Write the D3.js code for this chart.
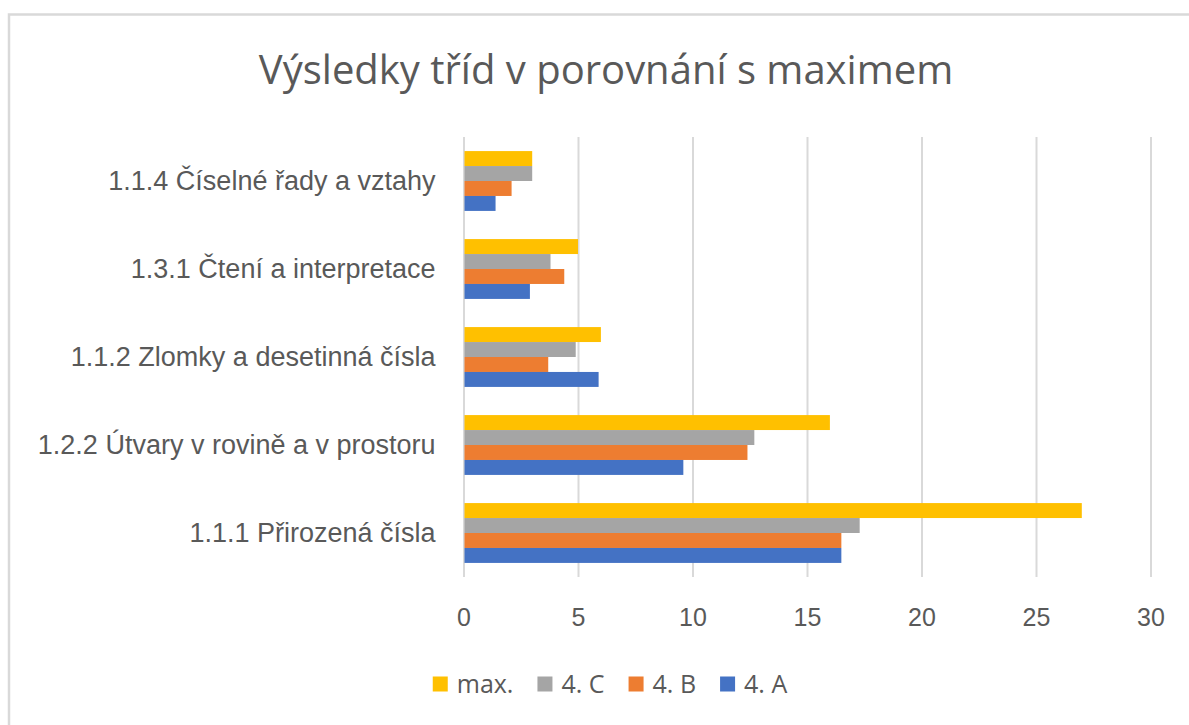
<!DOCTYPE html>
<html>
<head>
<meta charset="utf-8">
<script src="https://cdn.jsdelivr.net/npm/d3@7.9.0/dist/d3.min.js"></script>
<style>
  html, body { margin: 0; padding: 0; background: #fff; }
  svg { display: block; font-family: 'Open Sans', sans-serif; }
  .tick text { fill: #595959; }
</style>
</head>
<body>
<svg id="chart" width="1189" height="725"></svg>
<script>
// data (categories top to bottom)
const categories = [
  '1.1.4 Číselné řady a vztahy',
  '1.3.1 Čtení a interpretace',
  '1.1.2 Zlomky a desetinná čísla',
  '1.2.2 Útvary v rovině a v prostoru',
  '1.1.1 Přirozená čísla'
];
const seriesNames = ['max.', '4. C', '4. B', '4. A'];
const maxValues = [3, 5, 6, 16, 27];
const classC = [3, 3.8, 4.9, 12.7, 17.3];
const classB = [2.1, 4.4, 3.7, 12.4, 16.5];
const classA = [1.4, 2.9, 5.9, 9.6, 16.5];
const xTicks = [0, 5, 10, 15, 20, 25, 30];

const colors = ['#FFC000', '#A5A5A5', '#ED7D31', '#4472C4'];
const seriesValues = [maxValues, classC, classB, classA];

const svg = d3.select('#chart');

// chart frame
svg.append('rect')
  .attr('x', 9).attr('y', 14.5)
  .attr('width', 1300).attr('height', 900)
  .attr('fill', '#fff')
  .attr('stroke', '#d9d9d9')
  .attr('stroke-width', 2.5);

// title
svg.append('text')
  .attr('x', 606).attr('y', 84)
  .attr('text-anchor', 'middle')
  .attr('fill', '#595959')
  .style('font-size', '40px')
  .text('Výsledky tříd v porovnání s maximem');

const plot = { left: 463.5, right: 1150.5, top: 137, bottom: 577 };

let x = d3.scaleLinear().domain([0, 30]).range([plot.left, plot.right]);
let y = d3.scaleBand().domain(categories).range([plot.top, plot.bottom])
  .paddingInner(0.32).paddingOuter(0.16);
let ySub = d3.scaleBand().domain(seriesNames).range([0, y.bandwidth()]);

// gridlines + tick labels
let xAxis = svg.append('g')
  .attr('transform', `translate(0,${plot.bottom})`)
  .call(d3.axisBottom(x).tickValues(xTicks).tickSize(-(plot.bottom - plot.top)));
xAxis.select('.domain').remove();
xAxis.selectAll('.tick line').attr('stroke', '#d9d9d9').attr('stroke-width', 2);
xAxis.selectAll('.tick text')
  .attr('y', 40).attr('dy', '0.35em')
  .style('font-size', '25px');

// bars
let groups = svg.append('g').selectAll('g')
  .data(categories)
  .join('g')
  .attr('transform', (d) => `translate(0,${y(d)})`);

groups.selectAll('rect')
  .data((d, i) => seriesNames.map((s, j) => ({ s, j, v: seriesValues[j][i] })))
  .join('rect')
  .attr('x', x(0) + 1)
  .attr('y', (d) => ySub(d.s))
  .attr('width', (d) => x(d.v) - x(0) - 1)
  .attr('height', ySub.bandwidth())
  .attr('fill', (d) => colors[d.j]);

// category labels
let yAxis = svg.append('g')
  .attr('transform', `translate(${plot.left},0)`)
  .call(d3.axisLeft(y).tickSize(0).tickPadding(28));
yAxis.select('.domain').remove();
yAxis.selectAll('.tick text').style('font-size', '27px');

// legend
let legend = svg.append('g');
let lx = 0;
seriesNames.forEach((name, i) => {
  let item = legend.append('g').attr('transform', `translate(${lx},0)`);
  item.append('rect')
    .attr('x', 0).attr('y', -7.5)
    .attr('width', 15).attr('height', 15)
    .attr('fill', colors[i]);
  let t = item.append('text')
    .attr('x', 24).attr('dy', '0.35em')
    .attr('fill', '#595959')
    .style('font-size', '25px')
    .text(name);
  lx += 24 + t.node().getComputedTextLength() + 24;
});
lx -= 24;
legend.attr('transform', `translate(${610 - lx / 2},684)`);
</script>
</body>
</html>
